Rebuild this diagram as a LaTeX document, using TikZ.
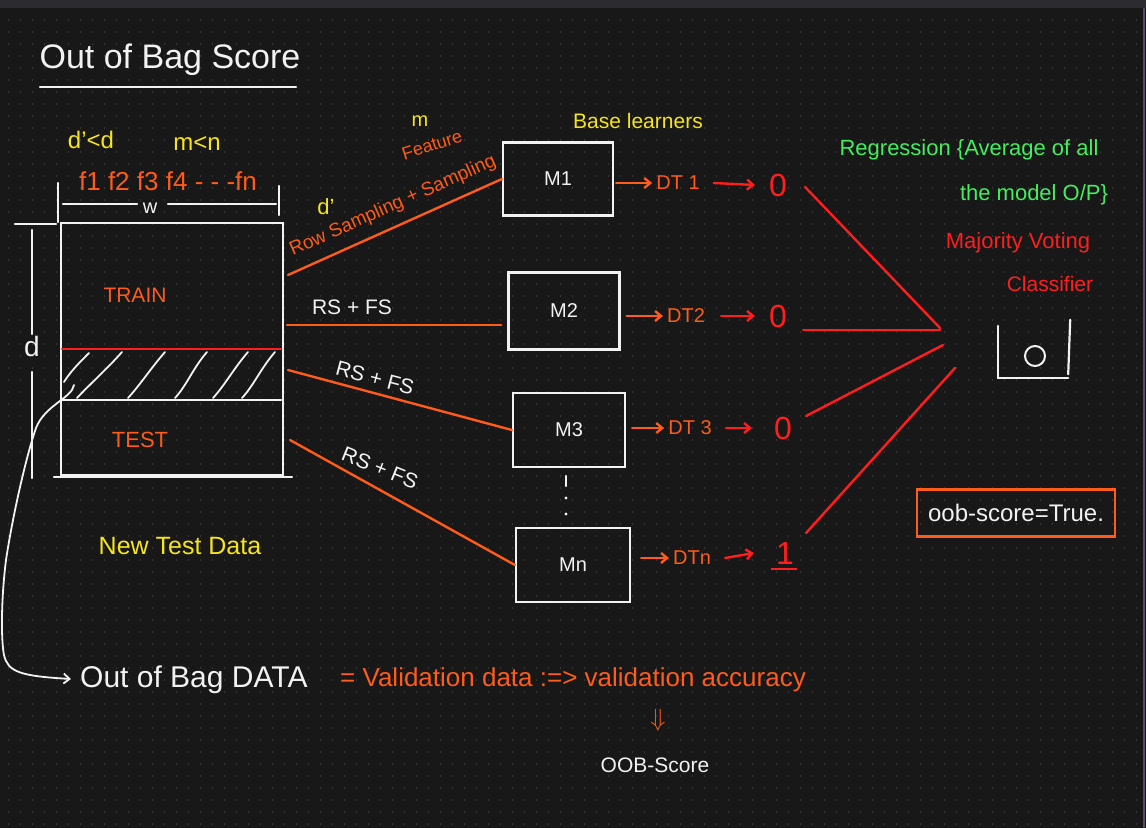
\documentclass[tikz,border=0pt]{standalone}
\usepackage{fontspec}
\setmainfont{Liberation Sans}
\usetikzlibrary{arrows.meta,calc}
\definecolor{bg}{HTML}{181818}
\definecolor{topbar}{HTML}{2B2B30}
\definecolor{gridc}{HTML}{363636}
\definecolor{wht}{HTML}{F2F2F2}
\definecolor{org}{HTML}{FF5B1A}
\definecolor{rd}{HTML}{FF1E1E}
\definecolor{ylw}{HTML}{F7E51B}
\definecolor{grn}{HTML}{44EE5E}
\definecolor{edge}{HTML}{5A4A6A}
\tikzset{
  wl/.style={draw=wht, line width=2.2pt, line cap=round},
  ol/.style={draw=org, line width=2.4pt, line cap=round},
  rl/.style={draw=rd, line width=2.4pt, line cap=round},
  txt/.style={inner sep=0pt, font=\fontsize{18}{20}\selectfont},
  wtxt/.style={txt, text=wht},
  otxt/.style={txt, text=org},
  rtxt/.style={txt, text=rd},
  ytxt/.style={txt, text=ylw},
  gtxt/.style={txt, text=grn},
  model/.style={draw=wht, line width=2.2pt, inner sep=0pt, text=wht, font=\fontsize{20}{22}\selectfont},
  arr/.style={-{Straight Barb[length=6pt,width=10pt]}},
}
\begin{document}
\begin{tikzpicture}[x=1pt,y=-1pt]
\useasboundingbox (0,0) rectangle (1146,828);
\fill[bg] (0,0) rectangle (1146,828);
\fill[topbar] (0,0) rectangle (1146,8);
\foreach \y in {20,32,...,824}
  \draw[gridc, line width=1.3pt, dash pattern=on 1.3pt off 10.7pt] (8,\y) -- (1140,\y);
\draw[edge, line width=1.2pt] (1144,8) -- (1144,828);

% title
\node[wtxt, font=\fontsize{34}{36}\selectfont] (title) at (170,60) {Out of Bag Score};
\coordinate (ul1) at (40,87); \coordinate (ul2) at (296,87);
\draw[wl] (ul1) -- (ul2);

% top annotations
\node[ytxt, font=\fontsize{24}{26}\selectfont] (dlt) at (91,140) {d'<d};
\node[ytxt, font=\fontsize{24}{26}\selectfont] (mlt) at (197,143) {m<n};
\node[otxt, font=\fontsize{26}{28}\selectfont] (feats) at (168,181) {f1 f2 f3 f4 - - -fn};
\node[wtxt, font=\fontsize{20}{22}\selectfont] (w) at (150,208) {w};
\draw[wl] (58,183) -- (58,222);
\draw[wl] (279,186) -- (279,215);
\draw[wl] (63,204) -- (137,204);
\draw[wl] (168,204) -- (276,204);
\draw[wl] (15,224) -- (56,224);

% data box
\node[draw=wht, line width=2.2pt, minimum width=222pt, minimum height=252pt, anchor=north west, inner sep=0pt] (data) at (60,222) {};
\draw[wl] (54,477) -- (292,477);
\draw[rl] (62,349) -- (281,349);
\draw[wl] (62,400) -- (281,400);
\foreach \a/\b in {77/122,128/165,175/207,213/248,242/275}
  \draw[wl, line width=1.8pt] (\a,398) .. controls (\a+12,385) and (\b-14,368) .. (\b,352);
\draw[wl, line width=1.8pt] (64,382) .. controls (70,372) and (80,362) .. (89,353);
\node[otxt, font=\fontsize{21}{23}\selectfont] (train) at (135,295) {TRAIN};
\node[otxt, font=\fontsize{22}{24}\selectfont] (test) at (140,440) {TEST};
\node[ytxt, font=\fontsize{25}{27}\selectfont] (newtest) at (180,546) {New Test Data};

% d dimension
\node[wtxt, font=\fontsize{28}{30}\selectfont] (dlab) at (32,346) {d};
\draw[wl] (32,230) -- (32,334);
\draw[wl] (32,372) -- (32,478);

% curve from hatched area to bottom line
\coordinate (hs) at (74,385);
\node[wtxt, font=\fontsize{30}{32}\selectfont, anchor=west] (oobdata) at (80,680) {Out of Bag DATA};
\draw[wl, line width=1.8pt, arr] (hs) .. controls (72,398) and (45,405) .. (36,428)
  .. controls (25,460) and (12,520) .. (6,560)
  .. controls (1,600) and (1,640) .. (4,655)
  .. controls (8,672) and (20,676) .. ($(oobdata.west)+(-9,-1)$);
\node[otxt, font=\fontsize{26}{28}\selectfont, anchor=west] (valid) at (340,680) {= Validation data :=> validation accuracy};
\node[otxt, font=\fontsize{26}{28}\selectfont] (down) at (658,720) {$\Downarrow$};
\node[wtxt, font=\fontsize{21}{23}\selectfont] (oobscore) at (655,765) {OOB-Score};

% models
\node[model, minimum width=110pt, minimum height=73pt] (m1) at (558,179) {M1};
\node[model, minimum width=111pt, minimum height=77pt] (m2) at (564,311) {M2};
\node[model, minimum width=112pt, minimum height=74pt] (m3) at (569,430) {M3};
\node[model, minimum width=114pt, minimum height=74pt] (mn) at (573,565) {Mn};
\draw[wl] (566,476) -- (566,486);
\fill[wht] (566,498) circle (1.6pt);
\fill[wht] (566,514) circle (1.6pt);
\node[ytxt, font=\fontsize{21}{23}\selectfont] (base) at (638,121) {Base learners};

% sampling connectors
\coordinate (s1) at (288,275);
\coordinate (s2) at (287,325);
\coordinate (s3) at (288,370);
\coordinate (s4) at (290,440);
\draw[ol] (s1) -- (m1.west);
\draw[ol] (s2) -- ($(m2.west)+(-6,14)$);
\draw[ol] (s3) -- (m3.west);
\draw[ol] (s4) -- (mn.west);
\node[otxt, rotate=24, font=\fontsize{19}{21}\selectfont] (rowsamp) at (393,206) {Row Sampling + Sampling};
\node[ytxt, font=\fontsize{22}{24}\selectfont] (dprime) at (326,207) {d'};
\node[ytxt, font=\fontsize{20}{22}\selectfont] (mfeat) at (420,121) {m};
\node[otxt, rotate=18, font=\fontsize{18}{20}\selectfont] (feature) at (432,145) {Feature};
\node[wtxt, font=\fontsize{21}{23}\selectfont] (rs2) at (352,307) {RS + FS};
\node[wtxt, rotate=-15, font=\fontsize{21}{23}\selectfont] (rs3) at (375,378) {RS + FS};
\node[wtxt, rotate=-22, font=\fontsize{21}{23}\selectfont] (rs4) at (380,468) {RS + FS};

% outputs
\node[otxt, font=\fontsize{20}{22}\selectfont] (dt1) at (678,183) {DT 1};
\node[otxt, font=\fontsize{20}{22}\selectfont] (dt2) at (686,316) {DT2};
\node[otxt, font=\fontsize{20}{22}\selectfont] (dt3) at (690,428) {DT 3};
\node[otxt, font=\fontsize{20}{22}\selectfont] (dtn) at (692,558) {DTn};
\node[rtxt, font=\fontsize{32}{34}\selectfont] (o1) at (778,185) {0};
\node[rtxt, font=\fontsize{32}{34}\selectfont] (o2) at (778,316) {0};
\node[rtxt, font=\fontsize{32}{34}\selectfont] (o3) at (783,428) {0};
\node[rtxt, font=\fontsize{32}{34}\selectfont] (on) at (785,553) {1};
\draw[rd, line width=2pt] (771,569) -- (797,569);
\draw[ol, arr] ($(m1.east)+(2,4)$) -- ($(dt1.west)+(-4,0)$);
\draw[ol, arr] ($(m2.east)+(6,5)$) -- ($(dt2.west)+(-4,0)$);
\draw[ol, arr] ($(m3.east)+(6,-2)$) -- ($(dt3.west)+(-4,0)$);
\draw[ol, arr] ($(mn.east)+(10,-7)$) -- ($(dtn.west)+(-4,0)$);
\draw[rl, arr] ($(dt1.east)+(14,0)$) -- ($(o1.west)+(-14,0)$);
\draw[rl, arr] ($(dt2.east)+(16,0)$) -- ($(o2.west)+(-14,0)$);
\draw[rl, arr] ($(dt3.east)+(14,0)$) -- ($(o3.west)+(-22,0)$);
\draw[rl, arr] ($(dtn.east)+(14,0)$) -- ($(on.west)+(-22,0)$);

% aggregator
\node[minimum width=70pt, minimum height=52pt, inner sep=0pt] (agg) at (1033,352) {};
\draw[wl] (agg.north west) -- (agg.south west) -- (agg.south east);
\draw[wl] ($(agg.north east)+(2,-6)$) -- ($(agg.south east)+(0,-4)$);
\node[draw=wht, line width=2pt, circle, minimum size=20pt, inner sep=0pt] (aggc) at (1035,356) {};
\coordinate (a1) at (940,328);
\coordinate (a2) at (940,330);
\coordinate (a3) at (943,345);
\coordinate (a4) at (955,368);
\draw[rl] ($(o1.east)+(18,2)$) -- (a1);
\draw[rl] ($(o2.east)+(16,14)$) -- (a2);
\draw[rl] ($(o3.east)+(14,-12)$) -- (a3);
\draw[rl] ($(on.east)+(12,-20)$) -- (a4);

% right annotations
\node[gtxt, font=\fontsize{22}{24}\selectfont] (reg1) at (969,150) {Regression \{Average of all};
\node[gtxt, font=\fontsize{22}{24}\selectfont] (reg2) at (1034,195) {the model O/P\}};
\node[rtxt, font=\fontsize{22}{24}\selectfont] (maj) at (1018,243) {Majority Voting};
\node[rtxt, font=\fontsize{21}{23}\selectfont] (cls) at (1050,284) {Classifier};

% oob box
\node[wtxt, font=\fontsize{24}{26}\selectfont, draw=org, line width=2.2pt, minimum width=198pt, minimum height=47pt] (oobt) at (1016,513) {oob-score=True.};
\end{tikzpicture}
\end{document}
